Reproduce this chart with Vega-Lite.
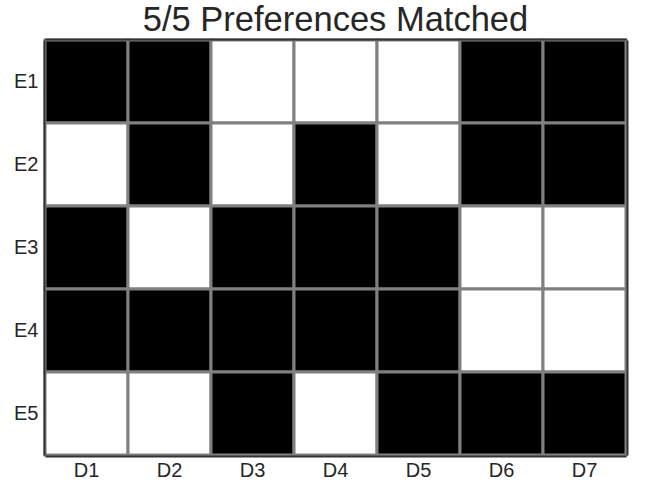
{
  "$schema": "https://vega.github.io/schema/vega-lite/v6.json",
  "autosize": "none",
  "width": 581,
  "height": 415,
  "padding": {"left": 45, "top": 40, "right": 19, "bottom": 30},
  "background": "white",
  "title": {"text": "5/5 Preferences Matched", "fontSize": 34.5, "font": "Liberation Sans", "fontWeight": "normal", "color": "#262626", "offset": 0, "anchor": "middle", "frame": "group"},
  "data": {"values": [
    {"e": "E1", "d": "D1", "v": 1}, {"e": "E1", "d": "D2", "v": 1}, {"e": "E1", "d": "D3", "v": 0}, {"e": "E1", "d": "D4", "v": 0}, {"e": "E1", "d": "D5", "v": 0}, {"e": "E1", "d": "D6", "v": 1}, {"e": "E1", "d": "D7", "v": 1},
    {"e": "E2", "d": "D1", "v": 0}, {"e": "E2", "d": "D2", "v": 1}, {"e": "E2", "d": "D3", "v": 0}, {"e": "E2", "d": "D4", "v": 1}, {"e": "E2", "d": "D5", "v": 0}, {"e": "E2", "d": "D6", "v": 1}, {"e": "E2", "d": "D7", "v": 1},
    {"e": "E3", "d": "D1", "v": 1}, {"e": "E3", "d": "D2", "v": 0}, {"e": "E3", "d": "D3", "v": 1}, {"e": "E3", "d": "D4", "v": 1}, {"e": "E3", "d": "D5", "v": 1}, {"e": "E3", "d": "D6", "v": 0}, {"e": "E3", "d": "D7", "v": 0},
    {"e": "E4", "d": "D1", "v": 1}, {"e": "E4", "d": "D2", "v": 1}, {"e": "E4", "d": "D3", "v": 1}, {"e": "E4", "d": "D4", "v": 1}, {"e": "E4", "d": "D5", "v": 1}, {"e": "E4", "d": "D6", "v": 0}, {"e": "E4", "d": "D7", "v": 0},
    {"e": "E5", "d": "D1", "v": 0}, {"e": "E5", "d": "D2", "v": 0}, {"e": "E5", "d": "D3", "v": 1}, {"e": "E5", "d": "D4", "v": 0}, {"e": "E5", "d": "D5", "v": 1}, {"e": "E5", "d": "D6", "v": 1}, {"e": "E5", "d": "D7", "v": 1}
  ]},
  "layer": [
    {
      "mark": {"type": "rect", "stroke": "#808080", "strokeWidth": 3},
      "encoding": {
        "x": {"field": "d", "type": "nominal", "scale": {"paddingInner": 0, "paddingOuter": 0},
          "axis": {"orient": "bottom", "title": null, "labelAngle": 0, "ticks": false, "domain": true, "domainColor": "#333333", "domainWidth": 2, "offset": 1, "zindex": 1, "labelFontSize": 20, "labelFont": "Liberation Sans", "labelColor": "#262626", "labelPadding": 4}},
        "y": {"field": "e", "type": "nominal", "scale": {"paddingInner": 0, "paddingOuter": 0},
          "axis": {"orient": "left", "title": null, "ticks": false, "domain": true, "domainColor": "#333333", "domainWidth": 2, "offset": 1, "zindex": 1, "labelFontSize": 20, "labelFont": "Liberation Sans", "labelColor": "#262626", "labelPadding": 6}},
        "fill": {"field": "v", "type": "nominal", "scale": {"domain": [0, 1], "range": ["#ffffff", "#000000"]}, "legend": null}
      }
    },
    {
      "mark": {"type": "rect", "fillOpacity": 0, "strokeOpacity": 0},
      "encoding": {
        "x": {"field": "d", "type": "nominal",
          "axis": {"orient": "top", "title": null, "labels": false, "ticks": false, "domain": true, "domainColor": "#333333", "domainWidth": 2, "offset": 1, "zindex": 1, "minExtent": 0, "maxExtent": 0}},
        "y": {"field": "e", "type": "nominal",
          "axis": {"orient": "right", "title": null, "labels": false, "ticks": false, "domain": true, "domainColor": "#333333", "domainWidth": 2, "offset": 1, "zindex": 1, "minExtent": 0, "maxExtent": 0}}
      }
    }
  ],
  "resolve": {"axis": {"x": "independent", "y": "independent"}},
  "config": {"view": {"stroke": null}}
}
